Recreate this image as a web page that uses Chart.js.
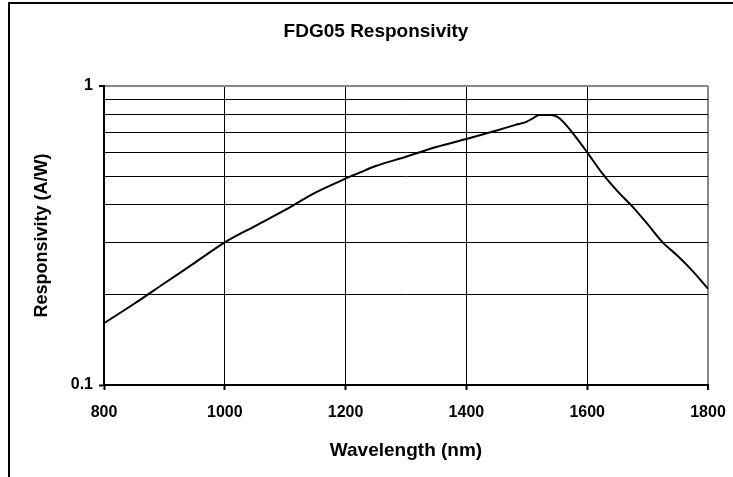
<!DOCTYPE html>
<html>
<head>
<meta charset="utf-8">
<script src="https://cdn.jsdelivr.net/npm/chart.js@4"></script>
<style>
  html, body { margin: 0; padding: 0; background: #fff; }
  #wrap { position: relative; width: 733px; height: 477px; overflow: hidden; }
  #frame { position: absolute; left: 8px; top: 2px; width: 760px; height: 500px; border: 2px solid #000; box-sizing: border-box; }
  canvas { position: absolute; left: 0; top: 0; }
</style>
</head>
<body>
<div id="wrap">
  <div id="frame"></div>
  <canvas id="chart" width="733" height="477"></canvas>
</div>
<script>
// wavelength (nm) and responsivity (A/W)
const wavelengths = [800, 850, 900, 950, 1000, 1050, 1100, 1150, 1200, 1225, 1250, 1300, 1350, 1400, 1450, 1480, 1500, 1510, 1520, 1540, 1550, 1560, 1580, 1600, 1625, 1650, 1675, 1700, 1725, 1750, 1775, 1800];
const responsivity = [0.161, 0.187, 0.219, 0.256, 0.30, 0.34, 0.385, 0.44, 0.49, 0.515, 0.54, 0.58, 0.625, 0.665, 0.71, 0.74, 0.76, 0.78, 0.80, 0.80, 0.79, 0.76, 0.68, 0.60, 0.51, 0.445, 0.395, 0.345, 0.30, 0.27, 0.24, 0.21];
const xTicks = [800, 1000, 1200, 1400, 1600, 1800];
const yGrid = [0.1, 0.2, 0.3, 0.4, 0.5, 0.6, 0.7, 0.8, 0.9, 1];
const yLabels = [0.1, 1];
const chartTitle = "FDG05 Responsivity";

const FONT = "'Liberation Sans', Arial, sans-serif";

// title is centred on the outer chart frame, not on the plot
const frameTitle = {
    id: "frameTitle",
    afterDraw(chart) {
        const ctx = chart.ctx;
        ctx.save();
        ctx.font = "bold 19px " + FONT;
        ctx.fillStyle = "#000";
        ctx.textAlign = "center";
        ctx.textBaseline = "middle";
        ctx.fillText(chartTitle, 376, 32);
        ctx.restore();
    }
};

new Chart(document.getElementById("chart"), {
    type: "line",
    data: {
        datasets: [{
            data: wavelengths.map((w, i) => ({ x: w, y: responsivity[i] })),
            borderColor: "#000",
            borderWidth: 2,
            pointRadius: 0,
            cubicInterpolationMode: "monotone",
            fill: false
        }]
    },
    plugins: [frameTitle],
    options: {
        responsive: false,
        animation: false,
        layout: { padding: { left: 0, right: 25, top: 86, bottom: 0 } },
        plugins: {
            legend: { display: false },
            tooltip: { enabled: false },
            title: { display: false }
        },
        scales: {
            x: {
                type: "linear",
                min: 800,
                max: 1800,
                afterBuildTicks: s => { s.ticks = xTicks.map(v => ({ value: v })); },
                afterFit: s => {
                    s.height = 477 - 385;
                    s.paddingLeft = 0;
                    s.paddingRight = 0;
                },
                ticks: {
                    color: "#000",
                    font: { family: FONT, size: 16, weight: "bold" },
                    padding: 13,
                    maxRotation: 0,
                    callback: v => String(v)
                },
                grid: {
                    color: c => c.tick && c.tick.value === 1800 ? "#888" : "#000",
                    lineWidth: c => c.tick && c.tick.value === 1800 ? 2 : 1,
                    tickColor: "#000",
                    tickLength: 5,
                    tickWidth: 2
                },
                border: { color: "#000", width: 2 },
                title: {
                    display: true,
                    text: "Wavelength (nm)",
                    color: "#000",
                    font: { family: FONT, size: 19, weight: "bold" },
                    padding: { top: 0, bottom: 15 }
                }
            },
            y: {
                type: "logarithmic",
                min: 0.1,
                max: 1,
                afterBuildTicks: s => { s.ticks = yGrid.map(v => ({ value: v })); },
                afterFit: s => { s.width = 104; },
                ticks: {
                    color: "#000",
                    font: { family: FONT, size: 16, weight: "bold" },
                    padding: 6,
                    autoSkip: false,
                    callback: v => yLabels.includes(v) ? String(v) : ""
                },
                grid: {
                    color: c => c.tick && c.tick.value === 1 ? "#888" : "#000",
                    lineWidth: c => c.tick && c.tick.value === 1 ? 2 : 1,
                    tickColor: c => c.tick && yLabels.includes(c.tick.value) ? "#000" : "rgba(0,0,0,0)",
                    tickLength: 5,
                    tickWidth: 2
                },
                border: { color: "#000", width: 2 },
                title: {
                    display: true,
                    text: "Responsivity (A/W)",
                    color: "#000",
                    font: { family: FONT, size: 18, weight: "bold" },
                    padding: { top: 31, bottom: 0 }
                }
            }
        }
    }
});
</script>
</body>
</html>
